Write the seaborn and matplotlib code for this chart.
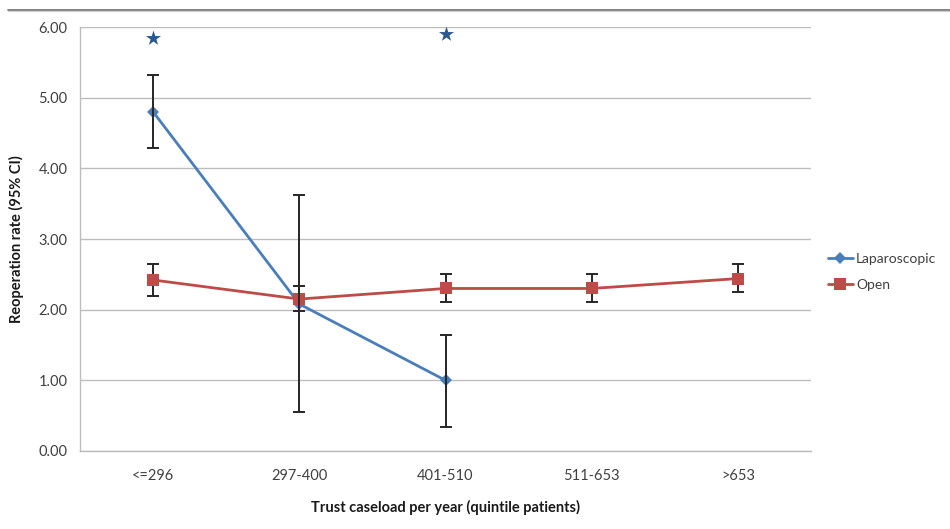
import matplotlib
matplotlib.use("Agg")
import matplotlib.pyplot as plt
from matplotlib.lines import Line2D
import seaborn as sns
import pandas as pd
import numpy as np

categories = ["<=296", "297-400", "401-510", "511-653", ">653"]
lap_rate = [4.80, 2.08, 1.00]
lap_low = [4.29, 0.55, 0.34]
lap_high = [5.32, 3.62, 1.64]
open_rate = [2.42, 2.15, 2.30, 2.30, 2.44]
open_low = [2.20, 1.98, 2.11, 2.11, 2.25]
open_high = [2.64, 2.34, 2.50, 2.50, 2.65]
star_cats = ["<=296", "401-510"]
star_vals = [5.85, 5.90]
y_ticks = [0, 1, 2, 3, 4, 5, 6]

sns.set_theme(style="white")
plt.rcParams["font.family"] = ["Lato", "DejaVu Sans"]

lap_color = "#4A7EBB"
open_color = "#BE4B48"

df = pd.DataFrame({
    "cat": categories[:len(lap_rate)] + categories,
    "rate": lap_rate + open_rate,
    "series": ["Laparoscopic"] * len(lap_rate) + ["Open"] * len(open_rate),
})
df["x"] = df["cat"].map({c: i for i, c in enumerate(categories)})

fig = plt.figure(figsize=(9.5, 5.29), dpi=100)
ax = fig.add_axes([80 / 950, 1 - 451 / 529, 731 / 950, 424 / 529])

# grid
for yv in y_ticks:
    ax.axhline(yv, color="#BDBDBD", lw=1.0, zorder=0)

sns.lineplot(data=df, x="x", y="rate", hue="series", style="series",
             markers={"Laparoscopic": "D", "Open": "s"}, dashes=False,
             palette={"Laparoscopic": lap_color, "Open": open_color},
             linewidth=2.0, markersize=8, markeredgewidth=0,
             ax=ax, legend=False, zorder=3)
for ln in ax.lines:
    if ln.get_marker() == "D":
        ln.set_markersize(6.5)
    if ln.get_marker() == "s":
        ln.set_markersize(9)

lx = np.arange(len(lap_rate))
ox = np.arange(len(open_rate))
ax.errorbar(lx, lap_rate,
            yerr=[np.array(lap_rate) - np.array(lap_low), np.array(lap_high) - np.array(lap_rate)],
            fmt="none", ecolor="#262626", elinewidth=1.4, capsize=4, capthick=1.4, zorder=4)
ax.errorbar(ox, open_rate,
            yerr=[np.array(open_rate) - np.array(open_low), np.array(open_high) - np.array(open_rate)],
            fmt="none", ecolor="#262626", elinewidth=1.4, capsize=4, capthick=1.4, zorder=2)

sx = [categories.index(c) for c in star_cats]
ax.scatter(sx, star_vals, marker="*", s=130, color="#2D5A8E", zorder=5, linewidths=0)

ax.set_xlim(-0.5, len(categories) - 0.5)
ax.set_ylim(0, 6)
ax.set_yticks(y_ticks)
ax.set_yticklabels([f"{v:.2f}" for v in y_ticks])
ax.set_xticks(np.arange(len(categories)))
ax.set_xticklabels(categories)
ax.set_xticks(np.arange(len(categories) + 1) - 0.5, minor=True)
ax.tick_params(axis="x", which="major", length=0, pad=13, labelsize=10.5, labelcolor="#404040")
ax.tick_params(axis="x", which="minor", length=5, width=1, color="#BDBDBD", direction="out")
ax.tick_params(axis="y", which="major", length=5, width=1, color="#BDBDBD", direction="out",
               pad=4, labelsize=10.5, labelcolor="#404040")

for s in ["top", "right"]:
    ax.spines[s].set_visible(False)
for s in ["left", "bottom"]:
    ax.spines[s].set_color("#BDBDBD")
    ax.spines[s].set_linewidth(1.0)

ax.set_xlabel("Trust caseload per year (quintile patients)", fontsize=10.5,
              fontweight="bold", color="#1a1a1a", labelpad=12)
ax.set_ylabel("Reoperation rate (95% CI)", fontsize=10.5,
              fontweight="bold", color="#1a1a1a", labelpad=10)

handles = [
    Line2D([0], [0], color=lap_color, lw=2, marker="D", markersize=6, markeredgewidth=0),
    Line2D([0], [0], color=open_color, lw=2, marker="s", markersize=8, markeredgewidth=0),
]
fig.legend(handles, ["Laparoscopic", "Open"], loc="center left",
           bbox_to_anchor=(822 / 950, 1 - 272 / 529), frameon=False,
           fontsize=10, handlelength=1.8, handletextpad=0.25, labelspacing=1.0,
           labelcolor="#404040", borderpad=0.2, borderaxespad=0.2)

# top frame line
fig.add_artist(Line2D([8 / 950, 1.0], [1 - 9.5 / 529, 1 - 9.5 / 529],
                      transform=fig.transFigure, color="#6E6E6E", lw=1.2))
fig.add_artist(Line2D([8 / 950, 1.0], [1 - 11 / 529, 1 - 11 / 529],
                      transform=fig.transFigure, color="#CFCFCF", lw=0.8))

fig.savefig("out.png", dpi=100, facecolor="white")
